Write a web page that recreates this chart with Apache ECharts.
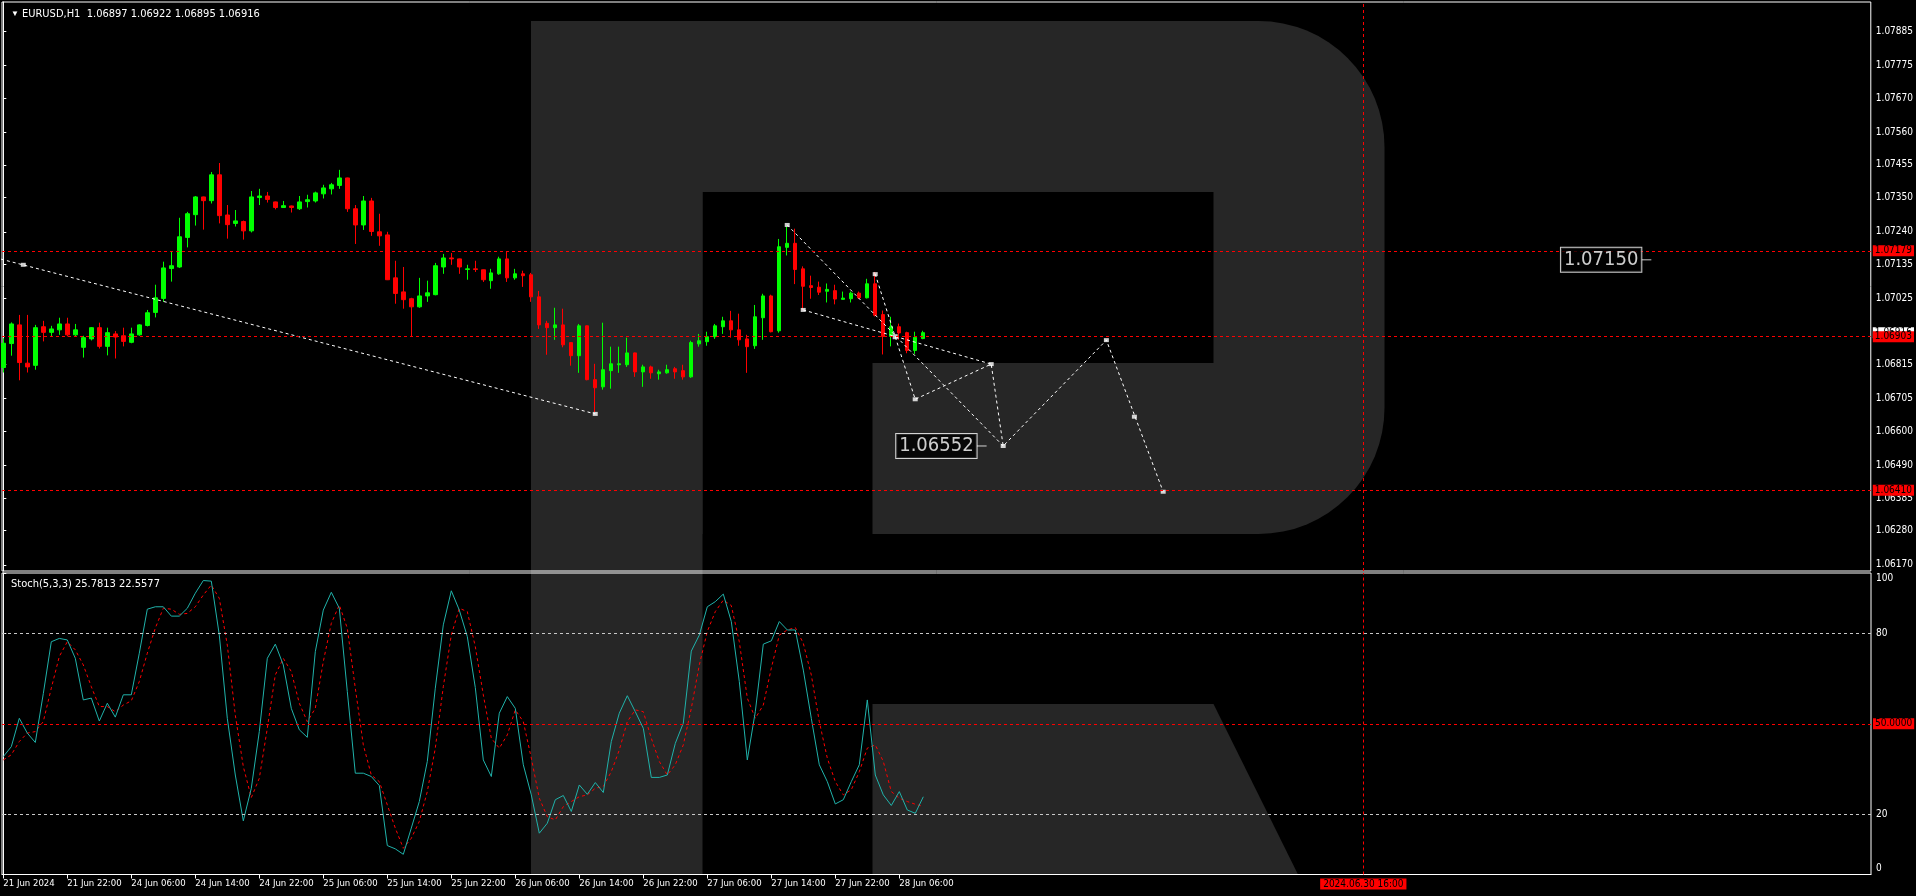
<!DOCTYPE html>
<html><head><meta charset="utf-8">
<script src="https://cdn.jsdelivr.net/npm/echarts@6/dist/echarts.min.js"></script>
<style>html,body{margin:0;padding:0;background:#000;}#c{width:1916px;height:896px;}</style>
</head><body><div id="c"></div>
<script>
const SYMBOL = 'EURUSD,H1';
const TIME_LABELS = ['21 Jun 2024','21 Jun 22:00','24 Jun 06:00','24 Jun 14:00','24 Jun 22:00','25 Jun 06:00','25 Jun 14:00','25 Jun 22:00','26 Jun 06:00','26 Jun 14:00','26 Jun 22:00','27 Jun 06:00','27 Jun 14:00','27 Jun 22:00','28 Jun 06:00'];
const TIME_LABEL_INDEX = [0,8,16,24,32,40,48,56,64,72,80,88,96,104,112];

const OPEN = [1.06804,1.06881,1.06941,1.06818,1.06811,1.06935,1.06917,1.06925,1.06944,1.06909,1.06869,1.06896,1.06932,1.06872,1.06912,1.06906,1.06885,1.06909,1.06939,1.06981,1.07026,1.07122,1.07127,1.07222,1.07295,1.07352,1.07340,1.07423,1.07294,1.07267,1.07273,1.07243,1.07350,1.07355,1.07336,1.07318,1.07323,1.07314,1.07337,1.07339,1.07362,1.07378,1.07389,1.07413,1.07314,1.07262,1.07339,1.07240,1.07230,1.07092,1.07047,1.07025,1.06999,1.07034,1.07038,1.07127,1.07156,1.07153,1.07119,1.07121,1.07118,1.07083,1.07105,1.07153,1.07092,1.07105,1.07102,1.07031,1.06946,1.06932,1.06941,1.06884,1.06842,1.06938,1.06765,1.06742,1.06794,1.06813,1.06813,1.06851,1.06790,1.06806,1.06784,1.06787,1.06800,1.06794,1.06774,1.06880,1.06887,1.06903,1.06935,1.06954,1.06925,1.06896,1.06874,1.06964,1.07034,1.06922,1.07190,1.07203,1.07121,1.07067,1.07062,1.07049,1.07051,1.07023,1.07025,1.07043,1.07028,1.07073,1.06974,1.06904,1.06935,1.06916,1.06859,1.06897];
const HIGH = [1.06898,1.06949,1.06973,1.06973,1.06941,1.06954,1.06938,1.06964,1.06964,1.06944,1.06906,1.06934,1.06948,1.06932,1.06921,1.06932,1.06932,1.06943,1.06989,1.07070,1.07144,1.07176,1.07285,1.07304,1.07355,1.07353,1.07432,1.07461,1.07326,1.07310,1.07276,1.07371,1.07378,1.07368,1.07337,1.07339,1.07324,1.07355,1.07359,1.07369,1.07391,1.07397,1.07439,1.07414,1.07326,1.07355,1.07349,1.07298,1.07240,1.07147,1.07127,1.07028,1.07092,1.07083,1.07140,1.07169,1.07172,1.07154,1.07134,1.07147,1.07119,1.07121,1.07160,1.07176,1.07121,1.07115,1.07108,1.07050,1.06954,1.06996,1.06993,1.06885,1.06944,1.06939,1.06816,1.06948,1.06871,1.06871,1.06900,1.06852,1.06813,1.06810,1.06797,1.06813,1.06806,1.06813,1.06890,1.06912,1.06919,1.06944,1.06967,1.06986,1.06977,1.06909,1.07005,1.07041,1.07038,1.07217,1.07257,1.07250,1.07129,1.07099,1.07080,1.07074,1.07070,1.07048,1.07048,1.07048,1.07089,1.07111,1.06987,1.06967,1.06945,1.06919,1.06919,1.06922];
const LOW = [1.06788,1.06842,1.06763,1.06788,1.06797,1.06888,1.06902,1.06909,1.06904,1.06904,1.06836,1.06891,1.06865,1.06843,1.06833,1.06872,1.06882,1.06906,1.06936,1.06965,1.07015,1.07080,1.07124,1.07190,1.07260,1.07247,1.07331,1.07267,1.07218,1.07257,1.07215,1.07238,1.07326,1.07334,1.07312,1.07317,1.07302,1.07310,1.07318,1.07334,1.07347,1.07360,1.07378,1.07304,1.07201,1.07246,1.07227,1.07195,1.07085,1.07009,1.06993,1.06902,1.06996,1.07015,1.07036,1.07105,1.07134,1.07105,1.07086,1.07111,1.07079,1.07057,1.07102,1.07079,1.07086,1.07063,1.07015,1.06928,1.06845,1.06893,1.06869,1.06810,1.06787,1.06763,1.06661,1.06733,1.06736,1.06787,1.06806,1.06774,1.06742,1.06768,1.06765,1.06784,1.06768,1.06765,1.06771,1.06871,1.06874,1.06896,1.06912,1.06900,1.06874,1.06787,1.06864,1.06893,1.06917,1.06916,1.07164,1.07072,1.06988,1.07025,1.07037,1.07013,1.07007,1.07022,1.07013,1.07024,1.07026,1.06968,1.06846,1.06872,1.06893,1.06850,1.06848,1.06895];
const CLOSE = [1.06882,1.06944,1.06820,1.06806,1.06932,1.06917,1.06928,1.06944,1.06909,1.06925,1.06900,1.06932,1.06872,1.06916,1.06902,1.06888,1.06912,1.06941,1.06980,1.07028,1.07124,1.07131,1.07224,1.07298,1.07352,1.07340,1.07423,1.07292,1.07263,1.07275,1.07243,1.07352,1.07355,1.07344,1.07318,1.07324,1.07318,1.07336,1.07343,1.07365,1.07381,1.07391,1.07413,1.07314,1.07262,1.07339,1.07241,1.07227,1.07086,1.07042,1.07022,1.06999,1.07034,1.07044,1.07131,1.07156,1.07153,1.07127,1.07121,1.07119,1.07086,1.07108,1.07153,1.07092,1.07105,1.07099,1.07031,1.06941,1.06932,1.06941,1.06877,1.06842,1.06938,1.06765,1.06739,1.06797,1.06816,1.06816,1.06851,1.06790,1.06806,1.06787,1.06790,1.06797,1.06790,1.06774,1.06884,1.06890,1.06903,1.06938,1.06954,1.06925,1.06893,1.06871,1.06967,1.07034,1.06919,1.07192,1.07203,1.07119,1.07065,1.07061,1.07046,1.07055,1.07024,1.07027,1.07043,1.07028,1.07073,1.06972,1.06904,1.06935,1.06915,1.06859,1.06901,1.06916];

const STOCH_NAME = 'Stoch(5,3,3)';
const STOCH_K = [39.1,42.4,51.8,46.9,43.8,60,77.2,78.3,77.8,71.7,57.9,58.5,50.9,56.8,52.2,59.6,59.6,73.4,88,88.8,88.8,85.7,85.7,88.3,93.3,97.5,97.3,79.4,51.8,33,17.8,28.6,47.4,71.7,76.4,69.5,55.1,48,45.5,73.9,87.7,93.6,88.3,60.7,33.6,33.6,32.5,29.5,9.6,8.5,6.7,15.4,24.2,37.5,61.8,82.8,94.1,87.7,78.9,62,38,32.5,53.5,59,55.1,36.4,26.4,13.7,17,24.8,26.2,20.9,29.7,26.6,30.5,27.2,44.1,53.5,59.3,54,48.5,32.2,32.2,33,43.5,50.2,74.1,79.4,88.8,90.5,93,83.9,64,38,54,76.4,77.5,83.9,81.1,81.1,67.8,51.8,36.4,30.8,23.4,24.8,30.8,36.4,57.9,33,26.4,22.9,27.5,21.4,20.3,25.7813];
const STOCH_D = [38,39.7,44.1,46.9,47.4,50.7,61.8,72.3,77.2,74.5,69.5,62.3,55.7,55.7,54,56.2,57.6,64,73.4,81.7,88.3,88,86.3,86.6,88.8,92.7,96,91.6,76.1,52.9,35.8,25.5,31.9,48.5,66.2,71.7,67.3,56.8,50.7,55.1,70.6,83.3,89.4,81.7,61.8,43,33,30.8,23.1,15.4,8.7,12,17.6,27.5,41.9,62.3,79.4,88.3,87.2,75.6,59.6,45.2,41.9,46.3,54.6,50.7,38.6,25.3,19.2,18.1,22.5,24.2,25.8,26.4,28.6,29.2,34.1,41.3,50.7,54.6,54,45.2,37.5,33,36.4,43,55.1,69.5,80.6,87.2,91,89.2,77.2,58.5,51.8,56.2,68.4,79.4,81.1,81.9,76.7,66.2,50.7,38.6,30.8,26.4,28.1,34.1,41.9,43,37.5,27.5,25.3,24.2,23.3,22.5577];

const PRICE_TICKS = [1.07885,1.07775,1.07670,1.07560,1.07455,1.07350,1.07240,1.07135,1.07025,1.06815,1.06705,1.06600,1.06490,1.06385,1.06280,1.06170];
const STOCH_TICKS = [0,20,80,100];
const PRICE_LEVELS = [1.07179,1.06903,1.06410];
const BID = 1.06916;
const STOCH_LEVELS = [80,20];
const STOCH_MID = 50;
const VLINE_INDEX = 170;
const VLINE_LABEL = '2024.06.30 16:00';

const TREND_LINE = [[-1,1.07157],[74,1.06655]];
const WEDGE_UPPER = [[98,1.07262],[125,1.06552]];
const WEDGE_LOWER = [[100,1.06989],[123.5,1.06815]];
const FORECAST_PATH = [[109,1.07104],[114,1.06702],[123.5,1.06815],[125,1.06552],[137.9,1.06892],[145,1.06405]];
const ARROW_POINTS = [[2.5,1.07134],[74,1.06655],[98,1.07262],[100,1.06989],[109,1.07104],[114,1.06702],[123.5,1.06815],[125,1.06552],[137.9,1.06892],[141.4,1.06646],[145,1.06405]];
const ANCHOR_POINT = [[111.5,1.06903]];
const PRICE_LABELS = [[122.3,1.06552],[205.4,1.07150]];

// pick a narrow font if one is installed, else shrink the regular one
function hasFont(name) {
  const cv = document.createElement('canvas').getContext('2d');
  cv.font = '40px monospace'; const a = cv.measureText('1.0655 Jun 22:00').width;
  cv.font = '40px "' + name + '", monospace'; const b = cv.measureText('1.0655 Jun 22:00').width;
  return Math.abs(a - b) > 0.5;
}
let FONT, FS, FS_TIME, FS_BIG;
if (hasFont('Liberation Sans Narrow')) { FONT = '"Liberation Sans Narrow", sans-serif'; FS = 11; FS_TIME = 11; FS_BIG = 23; }
else if (hasFont('DejaVu Sans Condensed')) { FONT = '"DejaVu Sans Condensed", sans-serif'; FS = 10; FS_TIME = 9.5; FS_BIG = 20; }
else { FONT = '"Liberation Sans", Arial, sans-serif'; FS = 10; FS_TIME = 9; FS_BIG = 20; }

const GREY = '#262626';
const X_MIN = -0.1625, X_MAX = 233.4625;
const Y_MAX = 1.079782, Y_MIN = 1.079782 - 569 / 31130;
const last = OPEN.length - 1;

const candleData = OPEN.map((o, i) => [i, o, CLOSE[i], LOW[i], HIGH[i]]);
const dashWhite = {color: '#ffffff', width: 1, type: [3, 3]};
const dashRed = {color: '#ff0000', width: 1, type: [3, 3]};
const tagLabel = (bg, fmt) => ({show: true, position: 'end', distance: 2, formatter: fmt, color: '#000', backgroundColor: bg, padding: [1, 2, 0, 2], fontSize: FS, fontFamily: FONT});

const chart = echarts.init(document.getElementById('c'), null, {renderer: 'canvas'});
chart.setOption({
  backgroundColor: '#000000',
  animation: false,
  title: [
    {text: '▼', left: 6, top: 5, textStyle: {color: '#fff', fontSize: 8, fontWeight: 'normal'}},
    {text: SYMBOL + '  ' + [OPEN[last], HIGH[last], LOW[last], CLOSE[last]].map(v => v.toFixed(5)).join(' '),
     left: 17, top: 4, textStyle: {color: '#fff', fontSize: FS + 1, fontWeight: 'normal', fontFamily: FONT}},
    {text: STOCH_NAME + ' ' + STOCH_K[last].toFixed(4) + ' ' + STOCH_D[last].toFixed(4),
     left: 6, top: 574, textStyle: {color: '#fff', fontSize: FS + 1, fontWeight: 'normal', fontFamily: FONT}}
  ],
  graphic: [
    {type: 'rect', z: -10, silent: true, shape: {x: 531, y: 21, width: 853.5, height: 513, r: [0, 126, 126, 0]}, style: {fill: GREY}},
    {type: 'rect', z: -9, silent: true, shape: {x: 702.5, y: 192, width: 511, height: 171}, style: {fill: '#000'}},
    {type: 'rect', z: -9, silent: true, shape: {x: 702.5, y: 363, width: 170, height: 512}, style: {fill: '#000'}},
    {type: 'rect', z: -8, silent: true, shape: {x: 531, y: 21, width: 171.5, height: 853.5}, style: {fill: GREY}},
    {type: 'polygon', z: -8, silent: true, shape: {points: [[872.5, 704], [1213.5, 704], [1298, 874.5], [872.5, 874.5]]}, style: {fill: GREY}}
  ],
  grid: [
    {left: 2, top: 2, width: 1869, height: 569, show: true, borderColor: '#ffffff', borderWidth: 1, backgroundColor: 'transparent'},
    {left: 2, top: 573, width: 1869, height: 301.5, show: true, borderColor: '#ffffff', borderWidth: 1, backgroundColor: 'transparent'}
  ],
  xAxis: [
    {type: 'value', gridIndex: 0, min: X_MIN, max: X_MAX, axisLine: {show: false}, axisTick: {show: false}, axisLabel: {show: false}, splitLine: {show: false}},
    {type: 'value', gridIndex: 1, min: X_MIN, max: X_MAX, position: 'bottom',
     axisLine: {show: true, lineStyle: {color: '#fff'}},
     axisTick: {show: true, customValues: TIME_LABEL_INDEX, length: 4, lineStyle: {color: '#fff'}},
     axisLabel: {show: true, customValues: TIME_LABEL_INDEX, formatter: v => TIME_LABELS[TIME_LABEL_INDEX.indexOf(Math.round(v))] || '',
       color: '#fff', fontSize: FS_TIME, fontFamily: FONT, align: 'left', margin: 4},
     splitLine: {show: false}}
  ],
  yAxis: [
    {type: 'value', gridIndex: 0, position: 'right', min: Y_MIN, max: Y_MAX,
     axisLine: {show: true, lineStyle: {color: '#fff'}},
     axisTick: {show: true, customValues: PRICE_TICKS, length: 3, lineStyle: {color: '#fff'}},
     axisLabel: {show: true, customValues: PRICE_TICKS, formatter: v => v.toFixed(5), color: '#fff', fontSize: FS, fontFamily: FONT, margin: 5},
     splitLine: {show: false}},
    {type: 'value', gridIndex: 1, position: 'right', min: 0, max: 100,
     axisLine: {show: true, lineStyle: {color: '#fff'}},
     axisTick: {show: true, customValues: STOCH_TICKS, length: 3, lineStyle: {color: '#fff'}},
     axisLabel: {show: true, customValues: STOCH_TICKS, color: '#fff', fontSize: FS, fontFamily: FONT, margin: 5,
       formatter: v => v === 100 ? '{t|100}' : (v === 0 ? '{b|0}' : String(v)),
       rich: {t: {padding: [10, 0, 0, 0], color: '#fff', fontSize: FS, fontFamily: FONT}, b: {padding: [0, 0, 12, 0], color: '#fff', fontSize: FS, fontFamily: FONT}}},
     splitLine: {show: false}}
  ],
  series: [
    {type: 'candlestick', xAxisIndex: 0, yAxisIndex: 0, data: candleData, encode: {x: 0, y: [1, 2, 3, 4]},
     barWidth: 4, silent: true,
     itemStyle: {color: '#00ff00', color0: '#ff0000', borderColor: '#00ff00', borderColor0: '#ff0000', borderWidth: 1}},
    {type: 'line', xAxisIndex: 0, yAxisIndex: 0, data: TREND_LINE, showSymbol: false, silent: true, lineStyle: dashWhite, clip: true, z: 3,
     markLine: {silent: true, symbol: ['none', 'none'], animation: false, precision: 5,
       data: [
         {yAxis: BID, lineStyle: {color: 'rgba(0,0,0,0)', width: 0}, label: tagLabel('#ffffff', p => Number(p.value).toFixed(5))},
         ...PRICE_LEVELS.map(v => ({yAxis: v, lineStyle: dashRed, label: tagLabel('#ff0000', p => Number(p.value).toFixed(5))})),
         {xAxis: VLINE_INDEX, lineStyle: dashRed, label: {show: false}}
       ]}},
    {type: 'line', xAxisIndex: 0, yAxisIndex: 0, data: WEDGE_UPPER, showSymbol: false, silent: true, lineStyle: dashWhite, z: 3},
    {type: 'line', xAxisIndex: 0, yAxisIndex: 0, data: WEDGE_LOWER, showSymbol: false, silent: true, lineStyle: dashWhite, z: 3},
    {type: 'line', xAxisIndex: 0, yAxisIndex: 0, data: FORECAST_PATH, showSymbol: false, silent: true, lineStyle: dashWhite, z: 3},
    {type: 'scatter', xAxisIndex: 0, yAxisIndex: 0, data: ARROW_POINTS, symbol: 'rect', symbolSize: [5, 4], silent: true, itemStyle: {color: '#fff'}, z: 4},
    {type: 'scatter', xAxisIndex: 0, yAxisIndex: 0, data: ANCHOR_POINT, symbol: 'rect', symbolSize: 5, silent: true, itemStyle: {color: '#fff'}, z: 4},
    {type: 'scatter', xAxisIndex: 0, yAxisIndex: 0, data: PRICE_LABELS, symbol: 'rect', symbolSize: [10, 1], silent: true, itemStyle: {color: '#fff'}, z: 5,
     label: {show: true, position: 'left', distance: 0, formatter: p => p.value[1].toFixed(5), color: '#fff', fontSize: FS_BIG, fontFamily: FONT,
       backgroundColor: '#000', borderColor: '#fff', borderWidth: 1, padding: [2, 3, 1, 3], lineHeight: 21}},
    {type: 'line', xAxisIndex: 1, yAxisIndex: 1, data: STOCH_K.map((v, i) => [i, v]), showSymbol: false, silent: true,
     lineStyle: {color: '#20b2aa', width: 1}, z: 4,
     markLine: {silent: true, symbol: ['none', 'none'], animation: false,
       data: [
         ...STOCH_LEVELS.map(v => ({yAxis: v, lineStyle: {color: '#c8c8c8', width: 1, type: [3, 3]}, label: {show: false}})),
         {yAxis: STOCH_MID, lineStyle: dashRed, label: tagLabel('#ff0000', p => Number(p.value).toFixed(4))},
         {xAxis: VLINE_INDEX, lineStyle: dashRed,
          label: {show: true, position: 'start', distance: 4, formatter: () => VLINE_LABEL, color: '#000', backgroundColor: '#ff0000', padding: [1, 3, 0, 3], fontSize: FS, fontFamily: FONT}}
       ]}},
    {type: 'line', xAxisIndex: 1, yAxisIndex: 1, data: STOCH_D.map((v, i) => [i, v]), showSymbol: false, silent: true,
     lineStyle: {color: '#ff0000', width: 1, type: [3, 3]}, z: 3}
  ]
});
</script></body></html>
